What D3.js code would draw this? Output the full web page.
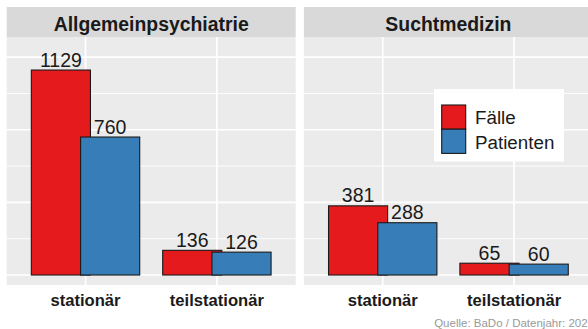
<html>
<head>
<meta charset="utf-8">
<script src="https://d3js.org/d3.v7.min.js"></script>
<style>
  body { margin: 0; background: #fff; }
  text { font-family: "Liberation Sans", Arial, sans-serif; }
</style>
</head>
<body>
<div id="chart"></div>
<script>
// data
const facets = ["Allgemeinpsychiatrie", "Suchtmedizin"];
const categories = ["stationär", "teilstationär"];
const seriesNames = ["Fälle", "Patienten"];
const colors = ["#E41A1C", "#377EB8"];
const faelle = [[1129, 136], [381, 65]];
const patienten = [[760, 126], [288, 60]];
const caption = "Quelle: BaDo / Datenjahr: 2020";

const width = 588, height = 329;
const svg = d3.select("#chart").append("svg")
    .attr("width", width)
    .attr("height", height);

// panel geometry (plot is a bit wider than the window, right side gets cut)
const panelLeft = [6.7, 303.9];
const panelW = 289;
const stripTop = 7, panelTop = 37, panelBottom = 285;

let yScale = d3.scaleLinear()
    .domain([-55, 1311])
    .range([panelBottom, panelTop]);

let xScale = d3.scalePoint()
    .domain(categories)
    .range([0, panelW])
    .padding(0.6);
const step = xScale.step();
const barW = 0.45 * step;
const dodge = 0.1875 * step;

const majorBreaks = [0, 400, 800, 1200];
const minorBreaks = [200, 600, 1000];

facets.forEach((f, fi) => {
    let g = svg.append("g").attr("transform", "translate(" + panelLeft[fi] + ",0)");

    // strip
    g.append("rect")
        .attr("x", 0).attr("y", stripTop)
        .attr("width", panelW).attr("height", panelTop - stripTop)
        .attr("fill", "#D9D9D9");
    g.append("text")
        .attr("x", panelW / 2).attr("y", 31)
        .attr("text-anchor", "middle")
        .attr("font-size", 19.4).attr("font-weight", "bold")
        .attr("fill", "#1A1A1A")
        .text(f);

    // panel background + grid
    g.append("rect")
        .attr("x", 0).attr("y", panelTop)
        .attr("width", panelW).attr("height", panelBottom - panelTop)
        .attr("fill", "#EBEBEB");
    g.selectAll(".minor").data(minorBreaks).join("line")
        .attr("x1", 0).attr("x2", panelW)
        .attr("y1", d => yScale(d)).attr("y2", d => yScale(d))
        .attr("stroke", "#fff").attr("stroke-width", 0.9);
    g.selectAll(".major").data(majorBreaks).join("line")
        .attr("x1", 0).attr("x2", panelW)
        .attr("y1", d => yScale(d)).attr("y2", d => yScale(d))
        .attr("stroke", "#fff").attr("stroke-width", 1.7);
    g.selectAll(".vgrid").data(categories).join("line")
        .attr("x1", d => xScale(d)).attr("x2", d => xScale(d))
        .attr("y1", panelTop).attr("y2", panelBottom)
        .attr("stroke", "#fff").attr("stroke-width", 1.7);

    // bars: Fälle first, Patienten drawn over it
    const vals = [faelle[fi], patienten[fi]];
    vals.forEach((arr, si) => {
        const off = si === 0 ? -dodge : dodge;
        g.selectAll(".bar" + si).data(categories).join("rect")
            .attr("x", (d) => xScale(d) + off - barW / 2)
            .attr("y", (d, i) => yScale(arr[i]))
            .attr("width", barW)
            .attr("height", (d, i) => yScale(0) - yScale(arr[i]))
            .attr("fill", colors[si])
            .attr("stroke", "#1A1A1A")
            .attr("stroke-width", 1.1);
    });
    vals.forEach((arr, si) => {
        const off = si === 0 ? -dodge : dodge;
        g.selectAll(".lab" + si).data(categories).join("text")
            .attr("x", d => xScale(d) + off)
            .attr("y", (d, i) => yScale(arr[i]) - 3.5)
            .attr("text-anchor", "middle")
            .attr("font-size", 19.5)
            .attr("fill", "#1A1A1A")
            .text((d, i) => arr[i]);
    });

    // x axis labels
    g.selectAll(".xlab").data(categories).join("text")
        .attr("x", d => xScale(d))
        .attr("y", 305.7)
        .attr("text-anchor", "middle")
        .attr("font-size", 16.6).attr("font-weight", "bold")
        .attr("fill", "#1A1A1A")
        .text(d => d);
});

// legend inside right panel
let legend = svg.append("g").attr("transform", "translate(434,89)");
legend.append("rect")
    .attr("width", 130).attr("height", 72.5)
    .attr("fill", "#fff");
seriesNames.forEach((s, i) => {
    legend.append("rect")
        .attr("x", 7.7).attr("y", 16 + i * 24.2)
        .attr("width", 24).attr("height", 24.2)
        .attr("fill", colors[i])
        .attr("stroke", "#1A1A1A").attr("stroke-width", 1.1);
    legend.append("text")
        .attr("x", 41).attr("y", 35.3 + i * 24.8)
        .attr("font-size", 18.8)
        .attr("fill", "#1A1A1A")
        .text(s);
});

// caption
svg.append("text")
    .attr("x", 594).attr("y", 326.5)
    .attr("text-anchor", "end")
    .attr("font-size", 11.5)
    .attr("fill", "#999999")
    .text(caption);
</script>
</body>
</html>
